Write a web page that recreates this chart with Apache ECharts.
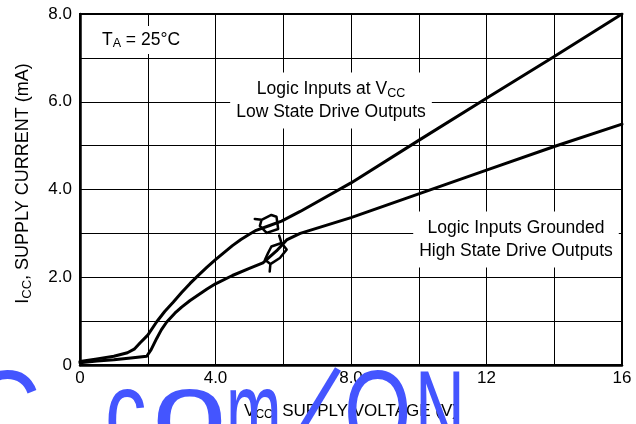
<!DOCTYPE html>
<html>
<head>
<meta charset="utf-8">
<script src="https://cdn.jsdelivr.net/npm/echarts@6/dist/echarts.min.js"></script>
<style>
html,body{margin:0;padding:0;background:#fff;}
#chart{width:636px;height:424px;}
</style>
</head>
<body>
<div id="chart"></div>
<script>
// ---- data ----
const xTickValues = [0, 4, 8, 12, 16];
const xTickLabels = ['0', '4.0', '8.0', '12', '16'];
const yTickValues = [0, 2, 4, 6, 8];
const yTickLabels = ['0', '2.0', '4.0', '6.0', '8.0'];

// Logic Inputs at VCC, Low State Drive Outputs
const inputsHighV = [0, 0.5, 1.0, 1.4, 1.6, 1.77, 2.0, 2.26, 2.5, 2.75, 3.0, 3.25, 3.5, 3.75, 4.0, 4.25, 4.5, 4.75, 5.0, 5.2, 5.6, 5.95, 6.5, 8, 10, 12, 14, 16];
const inputsHighI = [0.08, 0.14, 0.2, 0.28, 0.36, 0.5, 0.68, 0.98, 1.22, 1.43, 1.65, 1.86, 2.05, 2.23, 2.4, 2.56, 2.72, 2.86, 2.98, 3.07, 3.18, 3.28, 3.5, 4.15, 5.12, 6.08, 7.03, 8.0];

// Logic Inputs Grounded, High State Drive Outputs
const inputsGndV = [0, 0.5, 1.0, 1.5, 1.97, 2.1, 2.26, 2.4, 2.56, 2.8, 3.0, 3.25, 3.5, 3.75, 4.0, 4.5, 5.0, 5.4, 5.8, 6.1, 6.5, 7, 8, 10, 12, 14, 16];
const inputsGndI = [0.05, 0.09, 0.12, 0.16, 0.2, 0.35, 0.6, 0.8, 0.98, 1.18, 1.32, 1.47, 1.6, 1.73, 1.85, 2.04, 2.2, 2.33, 2.6, 2.85, 3.0, 3.12, 3.36, 3.9, 4.44, 4.98, 5.49];

// curve identification loops
const loopHighV = [5.16, 5.36, 5.65, 5.80, 5.85, 5.51, 5.31, 5.36];
const loopHighI = [3.33, 3.31, 3.42, 3.38, 3.10, 3.01, 3.17, 3.31];
const loopGndV = [5.60, 5.62, 5.46, 5.55, 5.65, 5.95, 6.10, 5.90, 5.62];
const loopGndI = [2.13, 2.30, 2.40, 2.55, 2.70, 2.78, 2.63, 2.44, 2.30];
const tickGndV = [5.95, 5.88];
const tickGndI = [2.78, 2.95];

const zip = (a, b) => a.map((v, i) => [v, b[i]]);

const FONT = '"Liberation Sans", Arial, Helvetica, sans-serif';
const chart = echarts.init(document.getElementById('chart'), null, {renderer: 'canvas'});

const lineSeries = (data, w) => ({
  type: 'line', data: data, showSymbol: false, symbol: 'none', smooth: false,
  lineStyle: {color: '#000', width: w, join: 'round', cap: 'round'}, z: 5, silent: true, animation: false
});

// watermark glyphs: [text, left x, horizontal scale]
const WM_FONT = '117px "Liberation Sans", Arial, sans-serif';
const WM_COLOR = '#4455ff';
const WM_Y = 420;
const wmGlyphs = [
  ['C', -31, 0.85],
  ['c', 105, 0.71],
  ['o', 152, 1.15],
  ['m', 226, 0.57],
  ['O', 344, 0.74],
  ['N', 415, 0.59]
];
const wmGraphics = wmGlyphs.map(g => ({
  type: 'text', x: g[1], y: WM_Y, scaleX: g[2], z: 200, silent: true,
  style: {text: g[0], font: WM_FONT, fill: WM_COLOR, verticalAlign: 'middle'}
}));
wmGraphics.push({
  type: 'line', z: 200, silent: true,
  shape: {x1: 301, y1: 430, x2: 338, y2: 369},
  style: {stroke: WM_COLOR, lineWidth: 7}
});

const option = {
  animation: false,
  backgroundColor: '#fff',
  grid: {left: 80, right: 14, top: 14, bottom: 59, show: true, borderColor: '#000', borderWidth: 2, containLabel: false, outerBoundsMode: 'none'},
  xAxis: {
    type: 'value', min: 0, max: 16, interval: 2,
    axisLine: {show: true, onZero: false, lineStyle: {color: '#000', width: 2.5}},
    axisTick: {show: false},
    splitLine: {show: true, lineStyle: {color: '#000', width: 1}},
    axisLabel: {
      color: '#000', fontSize: 17, fontFamily: FONT, margin: 5,
      formatter: v => { const i = xTickValues.indexOf(v); return i >= 0 ? xTickLabels[i] : ''; }
    },
    name: '{n|V}{s|CC}{n|, SUPPLY VOLTAGE (V)}',
    nameLocation: 'middle', nameGap: 36,
    nameTextStyle: {
      rich: {
        n: {fontSize: 17, fontFamily: FONT, color: '#000', lineHeight: 20},
        s: {fontSize: 12, fontFamily: FONT, color: '#000', lineHeight: 12, verticalAlign: 'bottom'}
      }
    }
  },
  yAxis: {
    type: 'value', min: 0, max: 8, interval: 1,
    axisLine: {show: true, onZero: false, lineStyle: {color: '#000', width: 2.5}},
    axisTick: {show: false},
    splitLine: {show: true, lineStyle: {color: '#000', width: 1}},
    axisLabel: {
      color: '#000', fontSize: 17, fontFamily: FONT, margin: 8,
      formatter: v => { const i = yTickValues.indexOf(v); return i >= 0 ? yTickLabels[i] : ''; }
    },
    name: '{n|I}{s|CC}{n|, SUPPLY CURRENT (mA)}',
    nameLocation: 'middle', nameGap: 46,
    nameTextStyle: {
      padding: [0, 0, 0, 12],
      rich: {
        n: {fontSize: 18, fontFamily: FONT, color: '#000', lineHeight: 21},
        s: {fontSize: 13, fontFamily: FONT, color: '#000', lineHeight: 13, verticalAlign: 'bottom'}
      }
    }
  },
  series: [
    lineSeries(zip(inputsHighV, inputsHighI), 3),
    lineSeries(zip(inputsGndV, inputsGndI), 3),
    lineSeries(zip(loopHighV, loopHighI), 2.5),
    lineSeries(zip(loopGndV, loopGndI), 2.5),
    lineSeries(zip(tickGndV, tickGndI), 2.5)
  ],
  graphic: [
    {
      type: 'text', x: 141, y: 40, z: 50,
      style: {
        text: '{n|T}{s|A}{n| = 25°C}', align: 'center', verticalAlign: 'middle',
        backgroundColor: '#fff', padding: [4, 5, 4, 5],
        rich: {
          n: {fontSize: 17.5, fontFamily: FONT, fill: '#000', lineHeight: 20},
          s: {fontSize: 12.5, fontFamily: FONT, fill: '#000', lineHeight: 12, verticalAlign: 'bottom'}
        }
      }
    },
    {
      type: 'text', x: 331, y: 100.5, z: 50,
      style: {
        text: '{n|Logic Inputs at V}{s|CC}\n{n|Low State Drive Outputs}', align: 'center', verticalAlign: 'middle',
        backgroundColor: '#fff', padding: [5, 6, 5, 6],
        rich: {
          n: {fontSize: 17.5, fontFamily: FONT, fill: '#000', lineHeight: 23},
          s: {fontSize: 12.5, fontFamily: FONT, fill: '#000', lineHeight: 12, verticalAlign: 'bottom'}
        }
      }
    },
    {
      type: 'text', x: 516, y: 239.5, z: 50,
      style: {
        text: '{n|Logic Inputs Grounded}\n{n|High State Drive Outputs}', align: 'center', verticalAlign: 'middle',
        backgroundColor: '#fff', padding: [5, 6, 5, 6],
        rich: {
          n: {fontSize: 17.5, fontFamily: FONT, fill: '#000', lineHeight: 23}
        }
      }
    }
  ].concat(wmGraphics)
};
chart.setOption(option);
</script>
</body>
</html>
